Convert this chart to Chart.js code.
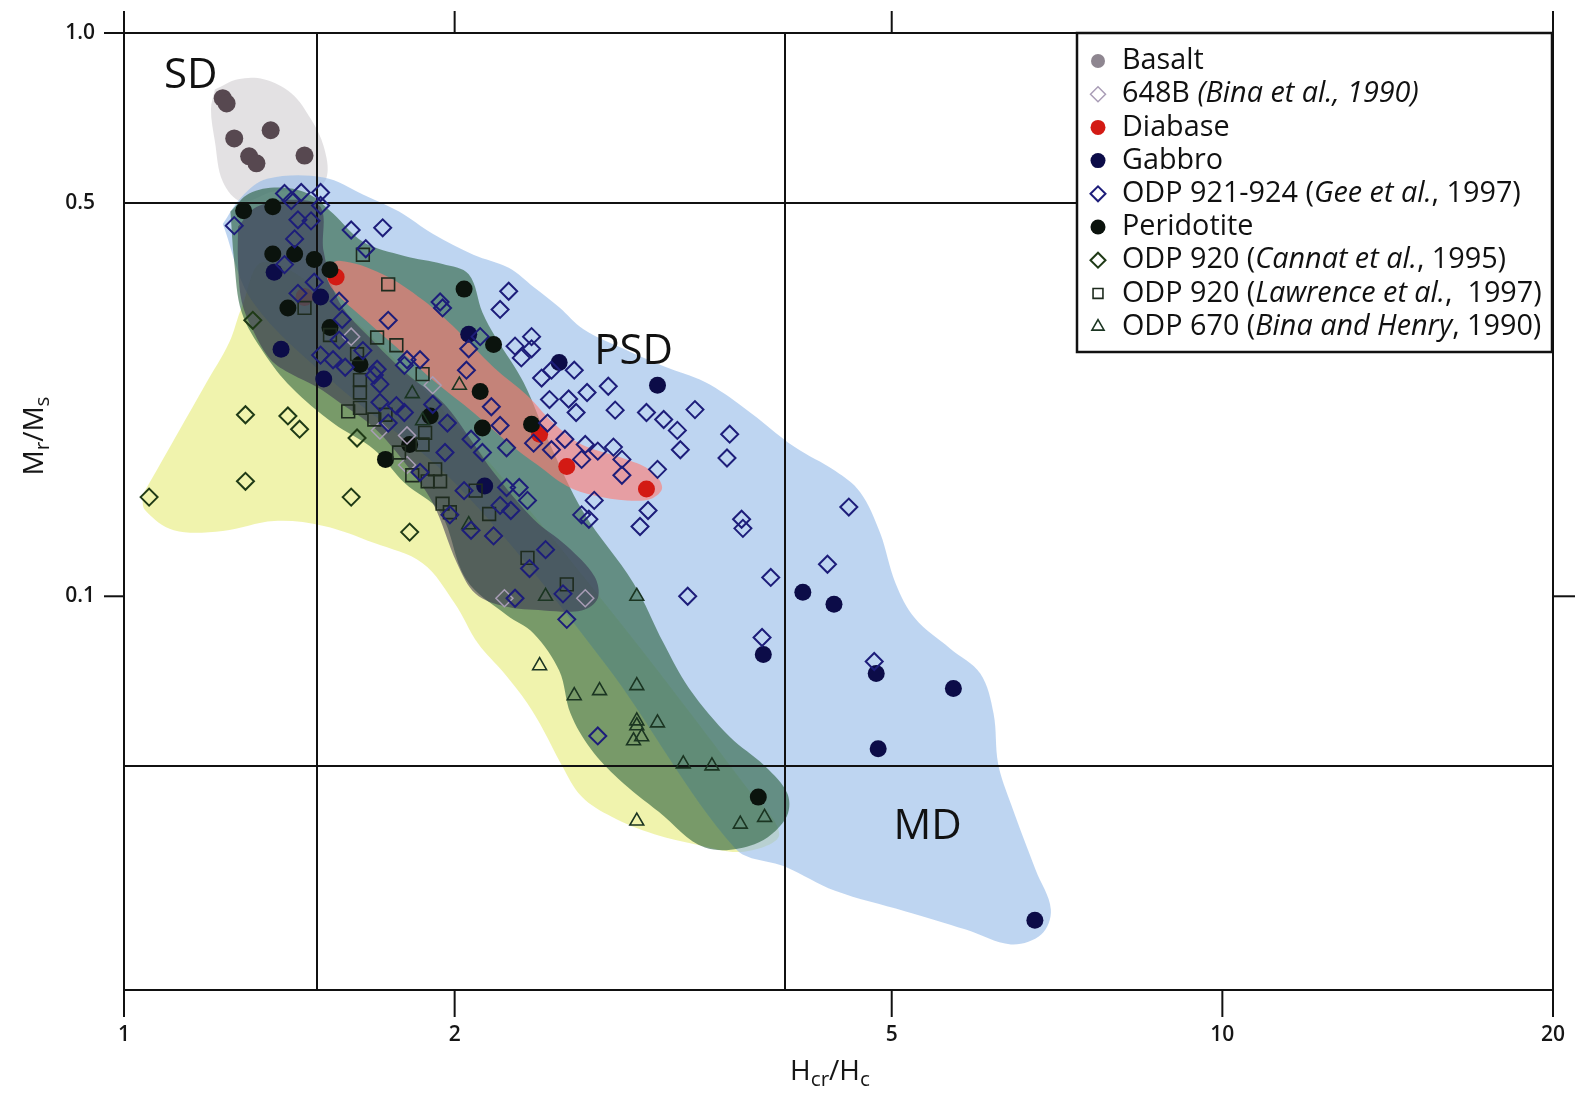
<!DOCTYPE html>
<html><head><meta charset="utf-8">
<script src="https://cdn.jsdelivr.net/npm/chart.js@4.4.1/dist/chart.umd.min.js"></script>
<style>html,body{margin:0;padding:0;background:#fff;}canvas{display:block;}</style>
</head><body>
<canvas id="c" width="1575" height="1096"></canvas>
<script>
// ---------- axes ----------
const xTicks = [1, 2, 5, 10, 20];
const yTicks = [1.0, 0.5, 0.1];
const xBoundaries = [1.5, 4];      // SD/PSD and PSD/MD Hcr/Hc limits
const yBoundaries = [0.5, 0.05];   // SD/PSD and PSD/MD Mr/Ms limits
const xTitle = [['H', 0], ['cr', 1], ['/H', 0], ['c', 1]];
const yTitle = [['M', 0], ['r', 1], ['/M', 0], ['s', 1]];

// ---------- domain labels ----------
const regionLabels = ['SD', 'PSD', 'MD'];
const regionX = [1.15, 2.91, 5.39];
const regionY = [0.838, 0.271, 0.0389];

// ---------- series (Hcr/Hc, Mr/Ms) ----------
const basalt = [[1.23,0.766],[1.24,0.750],[1.36,0.672],[1.26,0.650],[1.30,0.604],[1.32,0.587],[1.46,0.606],[1.46,0.340]];
const b648 = [[1.61,0.289],[1.81,0.193],[1.71,0.197],[1.91,0.237],[1.81,0.171],[2.22,0.0992],[2.63,0.0992]];
const diabase = [[1.56,0.369],[2.39,0.194],[2.53,0.170],[2.99,0.155]];
const gabbro = [[1.37,0.376],[1.51,0.340],[1.39,0.2745],[1.52,0.243],[2.06,0.292],[2.49,0.260],[3.06,0.237],[2.13,0.157],[4.15,0.1017],[4.43,0.0968],[3.82,0.0788],[4.84,0.0729],[5.69,0.0686],[4.86,0.0536],[6.75,0.0266]];
const gee = [[1.26,0.455],[1.40,0.519],[1.45,0.521],[1.51,0.521],[1.42,0.504],[1.51,0.494],[1.44,0.466],[1.48,0.464],[1.61,0.447],[1.72,0.451],[1.43,0.431],[1.66,0.414],[1.40,0.388],[1.49,0.361],[1.44,0.345],[1.57,0.334],[1.58,0.310],[1.74,0.309],[1.57,0.285],[1.51,0.268],[1.55,0.263],[1.65,0.273],[1.59,0.255],[1.70,0.253],[1.81,0.263],[1.86,0.263],[1.80,0.257],[1.94,0.333],[1.95,0.325],[2.06,0.275],[2.05,0.252],[2.24,0.348],[2.20,0.323],[2.11,0.289],[2.27,0.278],[2.35,0.289],[2.35,0.275],[2.30,0.265],[2.45,0.252],[2.57,0.252],[2.40,0.244],[2.76,0.236],[2.64,0.230],[2.54,0.224],[2.44,0.2235],[2.58,0.212],[2.80,0.214],[2.99,0.212],[3.10,0.206],[2.16,0.217],[2.43,0.203],[2.20,0.201],[2.52,0.190],[2.63,0.186],[2.70,0.181],[2.79,0.184],[2.61,0.175],[2.84,0.175],[2.84,0.164],[3.06,0.168],[2.07,0.190],[2.23,0.1835],[2.12,0.180],[2.36,0.187],[2.45,0.182],[1.96,0.180],[1.97,0.203],[1.91,0.219],[1.80,0.212],[1.71,0.221],[1.77,0.218],[1.74,0.203],[1.86,0.166],[2.04,0.154],[1.98,0.1395],[2.07,0.131],[2.23,0.156],[2.29,0.156],[2.33,0.148],[2.20,0.145],[2.25,0.142],[2.17,0.128],[2.61,0.1395],[2.65,0.137],[2.68,0.148],[3.00,0.142],[2.95,0.133],[2.42,0.121],[2.34,0.112],[2.27,0.0992],[2.51,0.101],[2.53,0.091],[2.70,0.0565],[3.31,0.2145],[3.19,0.197],[3.21,0.182],[3.56,0.194],[3.54,0.176],[4.57,0.144],[3.65,0.137],[3.66,0.132],[4.37,0.114],[3.88,0.108],[3.26,0.100],[3.81,0.0845],[4.82,0.0766],[1.69,0.247],[1.71,0.238]];
const peridotite = [[1.285,0.4835],[1.366,0.4915],[1.366,0.405],[1.43,0.405],[1.49,0.396],[1.54,0.380],[1.41,0.325],[1.54,0.300],[1.64,0.258],[2.04,0.351],[2.17,0.280],[2.11,0.231],[1.90,0.209],[1.82,0.186],[1.73,0.175],[2.12,0.199],[2.35,0.202],[3.78,0.044]];
const cannat = [[1.054,0.150],[1.29,0.210],[1.41,0.209],[1.445,0.198],[1.29,0.160],[1.61,0.150],[1.63,0.191],[1.31,0.309],[1.82,0.130]];
const lawrence = [[1.65,0.404],[1.74,0.358],[1.46,0.325],[1.54,0.291],[1.70,0.288],[1.77,0.279],[1.63,0.269],[1.87,0.248],[1.64,0.242],[1.64,0.230],[1.60,0.213],[1.64,0.216],[1.69,0.206],[1.73,0.210],[1.88,0.195],[1.87,0.186],[1.78,0.180],[1.83,0.164],[1.89,0.160],[1.92,0.168],[1.94,0.160],[1.95,0.146],[1.98,0.141],[2.09,0.154],[2.15,0.140],[2.33,0.117],[2.53,0.105]];
const odp670 = [[2.02,0.237],[1.83,0.229],[1.87,0.205],[2.06,0.134],[2.42,0.100],[2.93,0.100],[2.39,0.0753],[2.57,0.0666],[2.71,0.068],[2.93,0.0694],[2.93,0.0601],[2.93,0.0589],[3.06,0.0596],[2.96,0.0563],[2.91,0.0554],[3.23,0.0504],[3.43,0.050],[2.93,0.0399],[3.64,0.0394],[3.83,0.0405]];

// ---------- shaded fields (outline vertices, Hcr/Hc, Mr/Ms) ----------
const yellowField = [[1.039,0.151],[1.106,0.187],[1.185,0.237],[1.247,0.2825],[1.28,0.326],[1.34,0.392],[1.55,0.333],[2.00,0.203],[2.74,0.0972],[3.67,0.0464],[3.95,0.0378],[3.67,0.0352],[3.31,0.0363],[3.04,0.0378],[2.78,0.0406],[2.61,0.0441],[2.50,0.0504],[2.41,0.0578],[2.33,0.0645],[2.22,0.0729],[2.10,0.0825],[2.00,0.0972],[1.87,0.1145],[1.69,0.1243],[1.52,0.1333],[1.37,0.136],[1.23,0.1306],[1.11,0.131],[1.045,0.1423]];
const basaltField = [[1.21,0.794],[1.27,0.828],[1.34,0.828],[1.42,0.782],[1.48,0.703],[1.52,0.629],[1.53,0.556],[1.485,0.523],[1.37,0.523],[1.28,0.502],[1.23,0.545],[1.21,0.642],[1.20,0.732]];
const blueField = [[1.23,0.458],[1.28,0.512],[1.35,0.551],[1.52,0.554],[1.65,0.517],[1.78,0.482],[1.91,0.440],[2.08,0.404],[2.24,0.383],[2.36,0.354],[2.49,0.326],[2.62,0.298],[2.85,0.275],[3.10,0.256],[3.38,0.240],[3.67,0.216],[4.08,0.184],[4.44,0.167],[4.68,0.153],[4.88,0.1295],[5.04,0.1055],[5.25,0.0914],[5.65,0.0808],[6.02,0.0729],[6.19,0.0619],[6.25,0.0504],[6.42,0.0428],[6.76,0.0327],[6.98,0.0278],[6.84,0.0251],[6.42,0.0241],[5.84,0.0256],[5.14,0.0276],[4.44,0.0300],[4.00,0.0331],[3.60,0.0357],[2.74,0.0760],[2.00,0.159],[1.55,0.240],[1.31,0.333]];
const greenField = [[1.25,0.482],[1.30,0.519],[1.38,0.532],[1.47,0.519],[1.55,0.478],[1.65,0.426],[1.80,0.402],[1.95,0.389],[2.06,0.373],[2.12,0.319],[2.18,0.288],[2.31,0.240],[2.44,0.187],[2.62,0.141],[2.91,0.1055],[3.10,0.0825],[3.27,0.0686],[3.56,0.0563],[3.83,0.0500],[4.02,0.0445],[4.00,0.0402],[3.75,0.0363],[3.38,0.0358],[3.07,0.0414],[2.82,0.0474],[2.66,0.0536],[2.55,0.0619],[2.49,0.0738],[2.36,0.0859],[2.23,0.0926],[2.05,0.107],[1.94,0.141],[1.80,0.159],[1.69,0.182],[1.55,0.203],[1.42,0.235],[1.34,0.271],[1.28,0.319],[1.26,0.392]];
const darkField = [[1.27,0.453],[1.32,0.491],[1.42,0.506],[1.51,0.491],[1.52,0.409],[1.57,0.333],[1.69,0.2825],[1.81,0.248],[1.95,0.221],[2.08,0.187],[2.17,0.166],[2.36,0.137],[2.53,0.1228],[2.68,0.1086],[2.70,0.0992],[2.61,0.0944],[2.41,0.0944],[2.22,0.096],[2.09,0.101],[2.01,0.1145],[1.91,0.1465],[1.80,0.173],[1.69,0.199],[1.57,0.221],[1.50,0.235],[1.42,0.248],[1.36,0.263],[1.31,0.297],[1.28,0.333],[1.27,0.392]];
const redField = [[1.52,0.380],[1.57,0.394],[1.72,0.373],[1.87,0.336],[2.01,0.297],[2.17,0.255],[2.33,0.227],[2.46,0.203],[2.61,0.186],[2.87,0.175],[3.02,0.167],[3.09,0.1558],[3.02,0.149],[2.87,0.148],[2.68,0.151],[2.53,0.157],[2.38,0.171],[2.24,0.187],[2.08,0.212],[1.92,0.240],[1.80,0.269],[1.66,0.309],[1.55,0.350]];

// ---------- legend ----------
const legendLabels = ['Basalt', '648B *(Bina et al., 1990)*', 'Diabase', 'Gabbro', 'ODP 921-924 (*Gee et al.*, 1997)', 'Peridotite', 'ODP 920 (*Cannat et al.*, 1995)', 'ODP 920 (*Lawrence et al.*,  1997)', 'ODP 670 (*Bina and Henry*, 1990)'];

const FONT = '"Open Sans", "Noto Sans", sans-serif';
const pts = a => a.map(([x, y]) => ({x, y}));
const closed = a => pts(a.concat([a[0]]));

const series = [
  {key: 'basalt', data: basalt, style: 'circle', r: 9, fill: '#574850', stroke: '#574850', lw: 0, order: 8, lg: {fill: '#8e8690', stroke: '#8e8690', r: 7}},
  {key: 'b648', data: b648, style: 'rectRot', r: 8.5, fill: 'rgba(0,0,0,0)', stroke: '#a99db6', lw: 1.5, order: 4, lg: {r: 7.5}},
  {key: 'diabase', data: diabase, style: 'circle', r: 8.5, fill: '#d31a14', stroke: '#d31a14', lw: 0, order: 7, lg: {r: 7.5}},
  {key: 'gabbro', data: gabbro, style: 'circle', r: 8.5, fill: '#0c0c48', stroke: '#0c0c48', lw: 0, order: 6, lg: {r: 7.5}},
  {key: 'gee', data: gee, style: 'rectRot', r: 8.5, fill: 'rgba(0,0,0,0)', stroke: '#1d1d7a', lw: 2, order: 0, lg: {r: 7.5}},
  {key: 'peridotite', data: peridotite, style: 'circle', r: 8.5, fill: '#0b130d', stroke: '#0b130d', lw: 0, order: 5, lg: {r: 7.5}},
  {key: 'cannat', data: cannat, style: 'rectRot', r: 8.5, fill: 'rgba(0,0,0,0)', stroke: '#1f3a16', lw: 2, order: 2, lg: {r: 7.5}},
  {key: 'lawrence', data: lawrence, style: 'rect', r: 9, fill: 'rgba(0,0,0,0)', stroke: '#1e2b1e', lw: 1.6, order: 1, lg: {r: 7}},
  {key: 'odp670', data: odp670, style: 'triangle', r: 8, fill: 'rgba(0,0,0,0)', stroke: '#1b3522', lw: 1.6, order: 3, lg: {r: 7}}
];

const fields = [
  {data: yellowField, color: 'rgba(236,240,150,0.78)', order: 30},
  {data: basaltField, color: 'rgba(200,195,200,0.5)', order: 29},
  {data: blueField, color: 'rgba(150,188,232,0.62)', order: 28},
  {data: greenField, color: 'rgba(40,95,60,0.6)', order: 27},
  {data: darkField, color: 'rgba(55,50,80,0.55)', order: 26},
  {data: redField, color: 'rgba(255,125,115,0.62)', order: 25}
];

const datasets = [];
series.forEach(s => datasets.push({
  label: s.key, data: pts(s.data), showLine: false, order: s.order,
  pointStyle: s.style, pointRadius: s.r, pointHoverRadius: s.r,
  pointBackgroundColor: s.fill, pointBorderColor: s.stroke, pointBorderWidth: s.lw
}));
const redIndex = datasets.length + fields.length - 1;
fields.forEach(f => datasets.push({
  label: 'field', data: closed(f.data), showLine: true, order: f.order,
  fill: 'shape', backgroundColor: f.color, borderColor: 'rgba(0,0,0,0)', borderWidth: 0,
  pointRadius: 0, pointHoverRadius: 0, pointHitRadius: 0, tension: 0.35
}));

function drawScript(c, parts, cx, cy, size, rot) {
  c.save();
  c.translate(cx, cy);
  if (rot) c.rotate(rot);
  const sub = size * 0.74;
  let total = 0;
  const widths = parts.map(([t, s]) => { c.font = `${s ? sub : size}px ${FONT}`; const w = c.measureText(t).width; total += w; return w; });
  let x = -total / 2;
  c.fillStyle = '#161616'; c.textAlign = 'left'; c.textBaseline = 'alphabetic';
  parts.forEach(([t, s], i) => {
    c.font = `${s ? sub : size}px ${FONT}`;
    c.fillText(t, x, s ? size * 0.55 : size * 0.32);
    x += widths[i];
  });
  c.restore();
}

function marker(c, style, x, y, r, fill, stroke, lw) {
  c.save();
  c.beginPath();
  if (style === 'circle') c.arc(x, y, r, 0, Math.PI * 2);
  else if (style === 'rectRot') { c.moveTo(x - r, y); c.lineTo(x, y - r); c.lineTo(x + r, y); c.lineTo(x, y + r); c.closePath(); }
  else if (style === 'rect') { const h = r * Math.SQRT1_2; c.rect(x - h, y - h, 2 * h, 2 * h); }
  else if (style === 'triangle') { for (let k = 0; k < 3; k++) { const a = k * 2 * Math.PI / 3; const px = x + Math.sin(a) * r, py = y - Math.cos(a) * r; k ? c.lineTo(px, py) : c.moveTo(px, py); } c.closePath(); }
  if (fill && fill !== 'rgba(0,0,0,0)') { c.fillStyle = fill; c.fill(); }
  if (lw) { c.lineWidth = lw; c.strokeStyle = stroke; c.stroke(); }
  c.restore();
}

const decorPlugin = {
  id: 'decor',
  afterDatasetDraw(chart, args) {
    if (args.index !== redIndex) return;
    const c = chart.ctx, a = chart.chartArea, xs = chart.scales.x, ys = chart.scales.y;
    c.save();
    c.strokeStyle = '#111'; c.lineWidth = 2;
    xBoundaries.forEach(v => { const p = Math.round(xs.getPixelForValue(v)); c.beginPath(); c.moveTo(p, a.top); c.lineTo(p, a.bottom); c.stroke(); });
    yBoundaries.forEach(v => { const p = Math.round(ys.getPixelForValue(v)); c.beginPath(); c.moveTo(a.left, p); c.lineTo(a.right, p); c.stroke(); });
    c.restore();
  },
  afterDatasetsDraw(chart) {
    const c = chart.ctx, a = chart.chartArea, xs = chart.scales.x, ys = chart.scales.y;
    c.save();
    c.strokeStyle = '#111'; c.lineWidth = 2; c.lineCap = 'square';
    const line = (x1, y1, x2, y2) => { c.beginPath(); c.moveTo(x1, y1); c.lineTo(x2, y2); c.stroke(); };
    const yTop = ys.getPixelForValue(1), yDec = ys.getPixelForValue(0.1);
    line(a.left, a.top - 21, a.left, a.bottom + 26);
    line(a.right, a.top - 21, a.right, a.bottom + 26);
    line(a.left - 19, yTop, a.right, yTop);
    line(a.left, a.bottom, a.right, a.bottom);
    line(a.left - 19, yDec, a.left, yDec);
    line(a.right, yDec, a.right + 23, yDec);
    [2, 5, 10].forEach(v => { const p = xs.getPixelForValue(v); line(p, a.bottom, p, a.bottom + 26); });
    [2, 5].forEach(v => { const p = xs.getPixelForValue(v); line(p, a.top - 21, p, a.top); });
    c.fillStyle = '#111'; c.font = `42px ${FONT}`; c.textAlign = 'center'; c.textBaseline = 'middle';
    regionLabels.forEach((t, i) => c.fillText(t, xs.getPixelForValue(regionX[i]), ys.getPixelForValue(regionY[i])));
    c.restore();
    drawScript(c, xTitle, 830, 1071, 28, 0);
    drawScript(c, yTitle, 34, 436, 28, -Math.PI / 2);
  },
  afterDraw(chart) {
    const c = chart.ctx;
    const L = 1077, T = 33, R = 1552, B = 352;
    c.save();
    c.fillStyle = '#fff'; c.fillRect(L, T, R - L, B - T);
    c.lineWidth = 2.5; c.strokeStyle = '#111'; c.strokeRect(L, T, R - L, B - T);
    const segs = legendLabels.map(s => s.split('*').map((t, i) => ({t, it: i % 2 === 1})).filter(g => g.t.length));
    const fnt = (it, sz) => `${it ? 'italic ' : ''}${sz}px ${FONT}`;
    const measure = (s, sz) => s.reduce((w, g) => { c.font = fnt(g.it, sz); return w + c.measureText(g.t).width; }, 0);
    let size = 26;
    const maxW = Math.max(...segs.map(s => measure(s, size)));
    size = Math.min(31, size * 420 / maxW);
    c.textBaseline = 'middle'; c.textAlign = 'left'; c.fillStyle = '#111';
    segs.forEach((s, i) => {
      const y = 61 + i * 33.2;
      const sr = series[i];
      marker(c, sr.style, 1098, y, sr.lg.r, sr.lg.fill || sr.fill, sr.lg.stroke || sr.stroke, sr.lw ? sr.lw : 0);
      let x = 1122;
      s.forEach(g => { c.font = fnt(g.it, size); c.fillText(g.t, x, y); x += c.measureText(g.t).width; });
    });
    c.restore();
  }
};

const tickFont = {family: FONT, size: 21, weight: '600'};
new Chart(document.getElementById('c').getContext('2d'), {
  type: 'scatter',
  data: {datasets},
  options: {
    responsive: false, animation: false, events: [],
    layout: {padding: {left: 0, top: 33, right: 22, bottom: 0}},
    plugins: {legend: {display: false}, tooltip: {enabled: false}},
    scales: {
      x: {
        type: 'logarithmic', min: 1, max: 20, position: 'bottom',
        afterBuildTicks: s => { s.ticks = xTicks.map(v => ({value: v})); },
        afterFit: s => { s.height = 106; },
        ticks: {autoSkip: false, maxRotation: 0, padding: 1, color: '#161616', font: tickFont, callback: v => String(v)},
        grid: {display: true, drawOnChartArea: false, drawTicks: true, tickLength: 31, tickColor: 'rgba(0,0,0,0)', color: 'rgba(0,0,0,0)'},
        border: {display: false}
      },
      y: {
        type: 'logarithmic', min: 0.02, max: 1, position: 'left',
        afterBuildTicks: s => { s.ticks = yTicks.map(v => ({value: v})); },
        afterFit: s => { s.width = 124; },
        ticks: {autoSkip: false, padding: 1, color: '#161616', font: tickFont, callback: v => Number(v).toFixed(1)},
        grid: {display: true, drawOnChartArea: false, drawTicks: true, tickLength: 28, tickColor: 'rgba(0,0,0,0)', color: 'rgba(0,0,0,0)'},
        border: {display: false}
      }
    }
  },
  plugins: [decorPlugin]
});
</script>
</body></html>
